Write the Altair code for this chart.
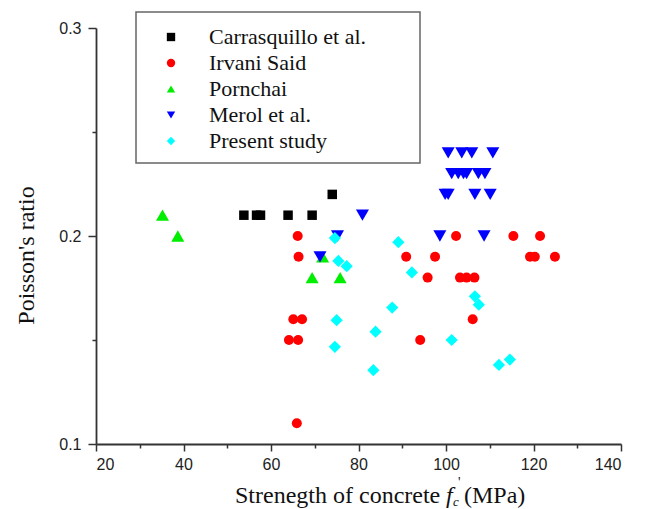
import altair as alt
import pandas as pd

series_names = ["Carrasquillo et al.", "Irvani Said", "Pornchai", "Merol et al.", "Present study"]
series_colors = ["#000000", "#ff0000", "#00ee00", "#0000ff", "#00ffff"]
series_shapes = ["square", "circle", "triangle-up", "triangle-down", "diamond"]
series_sizes = [90, 100, 170, 170, 150]

carr_x = [53.8, 56.7, 57.6, 63.9, 69.4, 74.0]
carr_y = [0.21, 0.21, 0.21, 0.21, 0.21, 0.22]

irv_x = [66.1, 66.3, 65.1, 67.1, 64.1, 66.2, 65.9, 102.3, 115.4, 121.5, 90.9, 97.5,
         119.2, 120.3, 124.9, 95.8, 103.2, 104.7, 106.5, 106.1, 94.1]
irv_y = [0.20, 0.19, 0.16, 0.16, 0.15, 0.15, 0.11, 0.20, 0.20, 0.20, 0.19, 0.19,
         0.19, 0.19, 0.19, 0.18, 0.18, 0.18, 0.18, 0.16, 0.15]

porn_x = [35.2, 38.7, 69.4, 75.8, 71.8]
porn_y = [0.21, 0.20, 0.18, 0.18, 0.19]

merol_x = [100.5, 103.6, 105.9, 110.7, 101.3, 102.8, 104.0, 104.7, 107.4, 108.9,
           99.8, 100.5, 106.6, 110.1, 98.6, 108.7, 80.9, 75.2, 71.2]
merol_y = [0.24, 0.24, 0.24, 0.24, 0.23, 0.23, 0.23, 0.23, 0.23, 0.23,
           0.22, 0.22, 0.22, 0.22, 0.20, 0.20, 0.21, 0.20, 0.19]

pres_x = [74.6, 89.1, 75.4, 77.3, 92.2, 106.6, 107.5, 87.7, 75.0, 83.9, 101.3, 74.6,
          114.6, 112.1, 83.4]
pres_y = [0.199, 0.197, 0.188, 0.1855, 0.1825, 0.171, 0.167, 0.1656, 0.1595, 0.154,
          0.150, 0.1467, 0.1406, 0.138, 0.1355]

x_ticks = [20, 30, 40, 50, 60, 70, 80, 90, 100, 110, 120, 130, 140]
y_ticks = [0.1, 0.15, 0.2, 0.25, 0.3]

rows = []
for name, xs, ys in zip(series_names,
                        [carr_x, irv_x, porn_x, merol_x, pres_x],
                        [carr_y, irv_y, porn_y, merol_y, pres_y]):
    for xv, yv in zip(xs, ys):
        rows.append({"series": name, "x": xv, "y": yv})
df = pd.DataFrame(rows)

SERIF = "Liberation Serif"
SANS = "Liberation Sans"
AX = "#333333"

x_enc = alt.X("x:Q", scale=alt.Scale(domain=[20, 140], nice=False, zero=False),
              axis=alt.Axis(values=x_ticks, title=None, grid=False,
                            labelExpr="datum.value % 20 == 0 ? datum.label : ''",
                            tickSize={"condition": {"test": "datum.value % 20 == 0", "value": 7}, "value": 4},
                            labelPadding=5))
y_enc = alt.Y("y:Q", scale=alt.Scale(domain=[0.1, 0.3], nice=False, zero=False),
              axis=alt.Axis(values=y_ticks, grid=False, title="Poisson's ratio",
                            labelExpr="abs(datum.value*10 - round(datum.value*10)) < 0.001 ? format(datum.value, '.1f') : ''",
                            tickSize={"condition": {"test": "abs(datum.value*10 - round(datum.value*10)) < 0.001", "value": 8}, "value": 4},
                            labelPadding=7, titleX=-70, titleY=227, titleAngle=270,
                            titleBaseline="middle", titleAlign="center",
                            titleFont=SERIF, titleFontSize=24, titleFontWeight="normal",
                            titleColor="#111111"))
color_enc = alt.Color("series:N", scale=alt.Scale(domain=series_names, range=series_colors),
                      legend=alt.Legend(title=None, orient="none", legendX=64, legendY=-2,
                                        labelFont=SERIF, labelFontSize=22, labelColor="#111111",
                                        labelOffset=27, symbolSize=70, rowPadding=4,
                                        padding=0, labelLimit=400, symbolStrokeWidth=0))
shape_enc = alt.Shape("series:N", scale=alt.Scale(domain=series_names, range=series_shapes))

layers = []
base = alt.Chart(df)
for name, sz in zip(series_names, series_sizes):
    layers.append(
        base.transform_filter(alt.datum.series == name)
        .mark_point(filled=True, opacity=1, strokeWidth=0, size=sz)
        .encode(x=x_enc, y=y_enc, color=color_enc, shape=shape_enc)
    )

legend_box = alt.Chart(pd.DataFrame({"a": [0]})).mark_rect(
    fill="white", fillOpacity=0, stroke="#666666", strokeWidth=1.5).encode(
    x=alt.value(40), x2=alt.value(324), y=alt.value(-16), y2=alt.value(135))

t1 = alt.Chart(pd.DataFrame({"t": ["Strenegth of concrete"]})).mark_text(
    font=SERIF, fontSize=24, align="left", baseline="alphabetic", color="#111111").encode(
    text="t:N", x=alt.value(139), y=alt.value(475))
t2 = alt.Chart(pd.DataFrame({"t": ["f"]})).mark_text(
    font=SERIF, fontSize=24, fontStyle="italic", align="left", baseline="alphabetic", color="#111111").encode(
    text="t:N", x=alt.value(350), y=alt.value(475))
t3 = alt.Chart(pd.DataFrame({"t": ["c"]})).mark_text(
    font=SERIF, fontSize=13, fontStyle="italic", align="left", baseline="alphabetic", color="#111111").encode(
    text="t:N", x=alt.value(357), y=alt.value(478))
t4 = alt.Chart(pd.DataFrame({"t": ["'"]})).mark_text(
    font=SERIF, fontSize=14, align="left", baseline="alphabetic", color="#111111").encode(
    text="t:N", x=alt.value(362), y=alt.value(459))
t5 = alt.Chart(pd.DataFrame({"t": ["(MPa)"]})).mark_text(
    font=SERIF, fontSize=24, align="left", baseline="alphabetic", color="#111111").encode(
    text="t:N", x=alt.value(368), y=alt.value(475))

chart = alt.layer(legend_box, *layers, t1, t2, t3, t4, t5).properties(
    width=525, height=416,
    autosize=alt.AutoSizeParams(type="none"),
    padding={"left": 96, "top": 28, "right": 25, "bottom": 65},
    background="white",
).configure_view(stroke=None).configure_axis(
    domainColor=AX, domainWidth=1.8, tickColor=AX, tickWidth=1.5,
    labelFont=SANS, labelFontSize=16, labelColor="#222222",
)

chart.save("out.html", embed_options={"renderer": "svg", "actions": False})
